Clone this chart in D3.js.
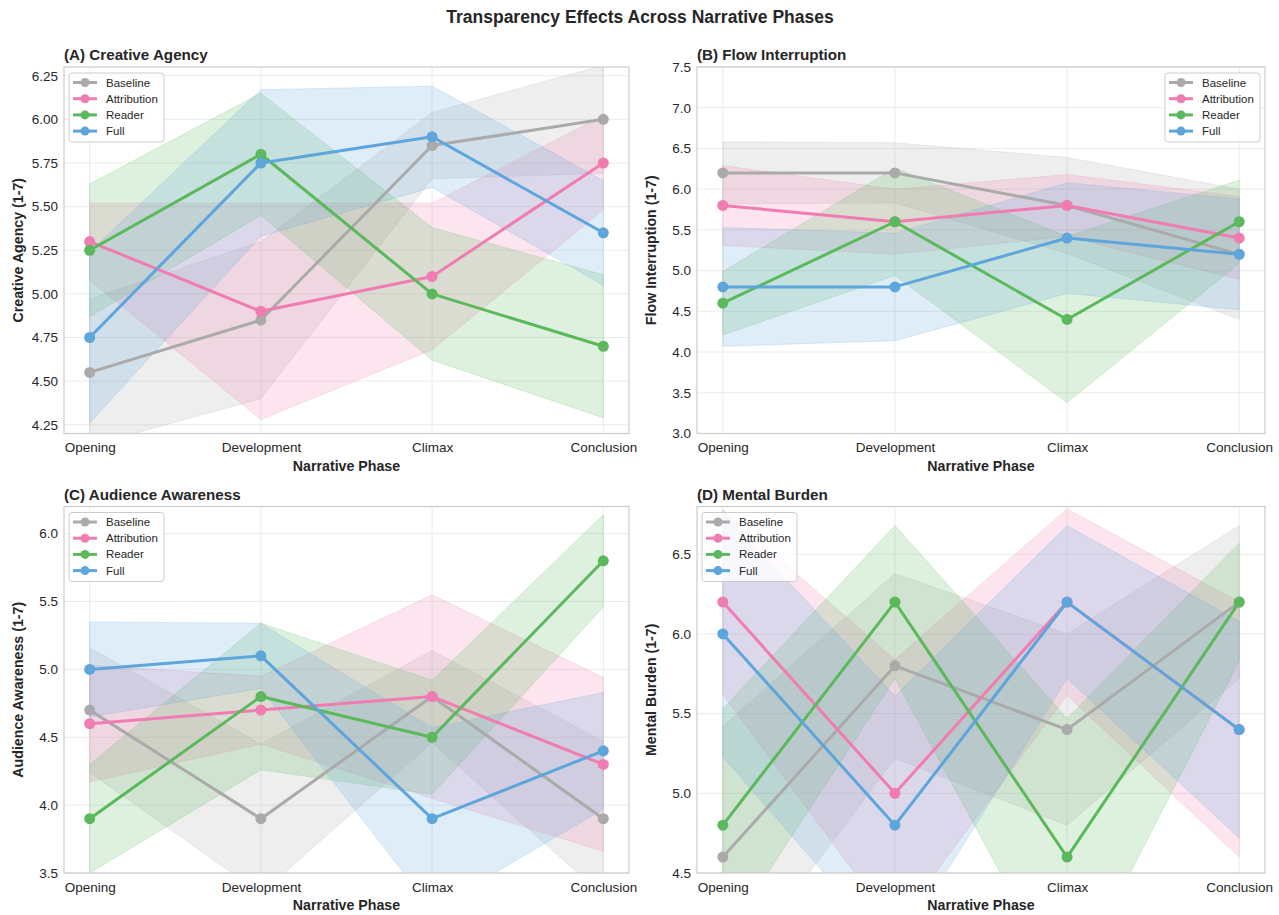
<!DOCTYPE html>
<html>
<head>
<meta charset="utf-8">
<script src="https://cdn.jsdelivr.net/npm/d3@7"></script>
<style>
  html, body { margin: 0; padding: 0; background: #ffffff; }
  svg { display: block; font-family: "Liberation Sans", Arial, Helvetica, sans-serif; }
</style>
</head>
<body>
<svg id="chart" width="1279" height="915"></svg>
<script>
// ---------------- DATA ----------------
const phases = ["Opening", "Development", "Climax", "Conclusion"];
const conditions = ["Baseline", "Attribution", "Reader", "Full"];
const colors = ["#aaaaaa", "#f07cb1", "#5cb85c", "#5da5da"];

// rows follow `conditions`, columns follow `phases`
const agencyMeans = [
  [4.55, 4.85, 5.85, 6.00],
  [5.30, 4.90, 5.10, 5.75],
  [5.25, 5.80, 5.00, 4.70],
  [4.75, 5.75, 5.90, 5.35]
];
const agencyCI = [
  [0.42, 0.45, 0.19, 0.31],
  [0.22, 0.62, 0.42, 0.27],
  [0.38, 0.35, 0.38, 0.41],
  [0.49, 0.42, 0.29, 0.30]
];
const agencyTicks = [4.25, 4.50, 4.75, 5.00, 5.25, 5.50, 5.75, 6.00, 6.25];

const flowMeans = [
  [6.2, 6.2, 5.8, 5.2],
  [5.8, 5.6, 5.8, 5.4],
  [4.6, 5.6, 4.4, 5.6],
  [4.8, 4.8, 5.4, 5.2]
];
const flowCI = [
  [0.38, 0.37, 0.59, 0.80],
  [0.49, 0.40, 0.38, 0.51],
  [0.39, 0.66, 1.02, 0.51],
  [0.73, 0.66, 0.68, 0.68]
];
const flowTicks = [3.0, 3.5, 4.0, 4.5, 5.0, 5.5, 6.0, 6.5, 7.0, 7.5];

const audienceMeans = [
  [4.7, 3.9, 4.8, 3.9],
  [4.6, 4.7, 4.8, 4.3],
  [3.9, 4.8, 4.5, 5.8],
  [5.0, 5.1, 3.9, 4.4]
];
const audienceCI = [
  [0.46, 0.55, 0.34, 0.57],
  [0.43, 0.25, 0.75, 0.64],
  [0.40, 0.54, 0.42, 0.34],
  [0.35, 0.24, 0.67, 0.43]
];
const audienceTicks = [3.5, 4.0, 4.5, 5.0, 5.5, 6.0];

const burdenMeans = [
  [4.6, 5.8, 5.4, 6.2],
  [6.2, 5.0, 6.2, 5.4],
  [4.8, 6.2, 4.6, 6.2],
  [6.0, 4.8, 6.2, 5.4]
];
const burdenCI = [
  [0.82, 0.58, 0.60, 0.48],
  [0.58, 0.84, 0.585, 0.80],
  [0.73, 0.48, 0.87, 0.37],
  [0.77, 0.81, 0.48, 0.68]
];
const burdenTicks = [4.5, 5.0, 5.5, 6.0, 6.5];

const panelTitles = ["(A) Creative Agency", "(B) Flow Interruption", "(C) Audience Awareness", "(D) Mental Burden"];
const yLabels = ["Creative Agency (1-7)", "Flow Interruption (1-7)", "Audience Awareness (1-7)", "Mental Burden (1-7)"];
const xLabel = "Narrative Phase";
const mainTitle = "Transparency Effects Across Narrative Phases";

// ---------------- LAYOUT ----------------
const svg = d3.select("#chart");
const textColor = "#262626";

svg.append("text")
  .attr("x", 640).attr("y", 23)
  .attr("text-anchor", "middle")
  .attr("font-size", 17.5).attr("font-weight", "bold")
  .attr("fill", textColor)
  .text(mainTitle);

const panels = [
  { left: 64,  top: 67,    width: 565, height: 366.5, domain: [4.2, 6.3], ticks: agencyTicks,   fmt: d3.format(".2f"), means: agencyMeans,   ci: agencyCI,   legend: "left" },
  { left: 697, top: 67,    width: 568, height: 366.5, domain: [3.0, 7.5], ticks: flowTicks,     fmt: d3.format(".1f"), means: flowMeans,     ci: flowCI,     legend: "right" },
  { left: 64,  top: 506.5, width: 565, height: 366.5, domain: [3.5, 6.2], ticks: audienceTicks, fmt: d3.format(".1f"), means: audienceMeans, ci: audienceCI, legend: "left" },
  { left: 697, top: 506.5, width: 568, height: 366.5, domain: [4.5, 6.8], ticks: burdenTicks,   fmt: d3.format(".1f"), means: burdenMeans,   ci: burdenCI,   legend: "left" }
];

panels.forEach((p, pi) => {
  const g = svg.append("g").attr("transform", `translate(${p.left},${p.top})`);
  const x = d3.scalePoint().domain(phases).range([0, p.width]).padding(0.15);
  const y = d3.scaleLinear().domain(p.domain).range([p.height, 0]);

  const clipId = "clip" + pi;
  g.append("clipPath").attr("id", clipId)
    .append("rect").attr("x", 0).attr("y", 0).attr("width", p.width).attr("height", p.height);

  // grid
  const grid = g.append("g");
  grid.selectAll("line.h").data(p.ticks).enter().append("line")
    .attr("x1", 0).attr("x2", p.width)
    .attr("y1", d => y(d)).attr("y2", d => y(d))
    .attr("stroke", "#ebebeb").attr("stroke-width", 1);
  grid.selectAll("line.v").data(phases).enter().append("line")
    .attr("x1", d => x(d)).attr("x2", d => x(d))
    .attr("y1", 0).attr("y2", p.height)
    .attr("stroke", "#ebebeb").attr("stroke-width", 1);

  // bands
  const bands = g.append("g").attr("clip-path", `url(#${clipId})`);
  conditions.forEach((c, ci) => {
    const rows = phases.map((ph, i) => ({ ph, m: p.means[ci][i], e: p.ci[ci][i] }));
    const area = d3.area()
      .x(d => x(d.ph))
      .y0(d => y(d.m - d.e))
      .y1(d => y(d.m + d.e));
    bands.append("path").datum(rows)
      .attr("d", area)
      .attr("fill", colors[ci]).attr("fill-opacity", 0.2)
      .attr("stroke", colors[ci]).attr("stroke-opacity", 0.2).attr("stroke-width", 1);
  });

  // lines
  const lines = g.append("g").attr("clip-path", `url(#${clipId})`);
  conditions.forEach((c, ci) => {
    const rows = phases.map((ph, i) => ({ ph, m: p.means[ci][i] }));
    const line = d3.line().x(d => x(d.ph)).y(d => y(d.m));
    lines.append("path").datum(rows)
      .attr("d", line)
      .attr("fill", "none")
      .attr("stroke", colors[ci]).attr("stroke-width", 3)
      .attr("stroke-linejoin", "round").attr("stroke-linecap", "round");
    lines.selectAll("circle.s" + ci).data(rows).enter().append("circle")
      .attr("cx", d => x(d.ph)).attr("cy", d => y(d.m))
      .attr("r", 5.5).attr("fill", colors[ci]);
  });

  // frame
  g.append("rect").attr("x", 0).attr("y", 0).attr("width", p.width).attr("height", p.height)
    .attr("fill", "none").attr("stroke", "#cccccc").attr("stroke-width", 1.2);

  // y axis
  const yAxis = d3.axisLeft(y).tickValues(p.ticks).tickFormat(p.fmt).tickSize(0).tickPadding(6);
  const ya = g.append("g").call(yAxis);
  ya.select(".domain").remove();
  ya.selectAll("text").attr("font-size", 13.5).attr("fill", textColor)
    .attr("font-family", "Liberation Sans, Arial, sans-serif");

  // x axis
  const xAxis = d3.axisBottom(x).tickSize(0).tickPadding(9);
  const xa = g.append("g").attr("transform", `translate(0,${p.height})`).call(xAxis);
  xa.select(".domain").remove();
  xa.selectAll("text").attr("font-size", 13.5).attr("fill", textColor)
    .attr("font-family", "Liberation Sans, Arial, sans-serif");

  // labels
  g.append("text")
    .attr("x", p.width / 2).attr("y", p.height + 37)
    .attr("text-anchor", "middle").attr("font-size", 14.2).attr("font-weight", "bold")
    .attr("fill", textColor).text(xLabel);
  g.append("text")
    .attr("transform", `translate(${-41},${p.height / 2}) rotate(-90)`)
    .attr("text-anchor", "middle").attr("font-size", 14.2).attr("font-weight", "bold")
    .attr("fill", textColor).text(yLabels[pi]);
  g.append("text")
    .attr("x", 0).attr("y", -7)
    .attr("font-size", 15.2).attr("font-weight", "bold")
    .attr("fill", textColor).text(panelTitles[pi]);

  // legend
  const lw = 95, lh = 69;
  const lx = p.legend === "left" ? 5 : p.width - lw - 5;
  const lg = g.append("g").attr("transform", `translate(${lx},6)`);
  lg.append("rect").attr("width", lw).attr("height", lh).attr("rx", 3)
    .attr("fill", "#ffffff").attr("fill-opacity", 0.8)
    .attr("stroke", "#cccccc").attr("stroke-width", 1);
  conditions.forEach((c, ci) => {
    const ry = 9.5 + ci * 16.2;
    lg.append("line").attr("x1", 4).attr("x2", 28).attr("y1", ry).attr("y2", ry)
      .attr("stroke", colors[ci]).attr("stroke-width", 3);
    lg.append("circle").attr("cx", 16).attr("cy", ry).attr("r", 4.5).attr("fill", colors[ci]);
    lg.append("text").attr("x", 37).attr("y", ry + 4)
      .attr("font-size", 11.5).attr("fill", textColor).text(c);
  });
});
</script>
</body>
</html>
